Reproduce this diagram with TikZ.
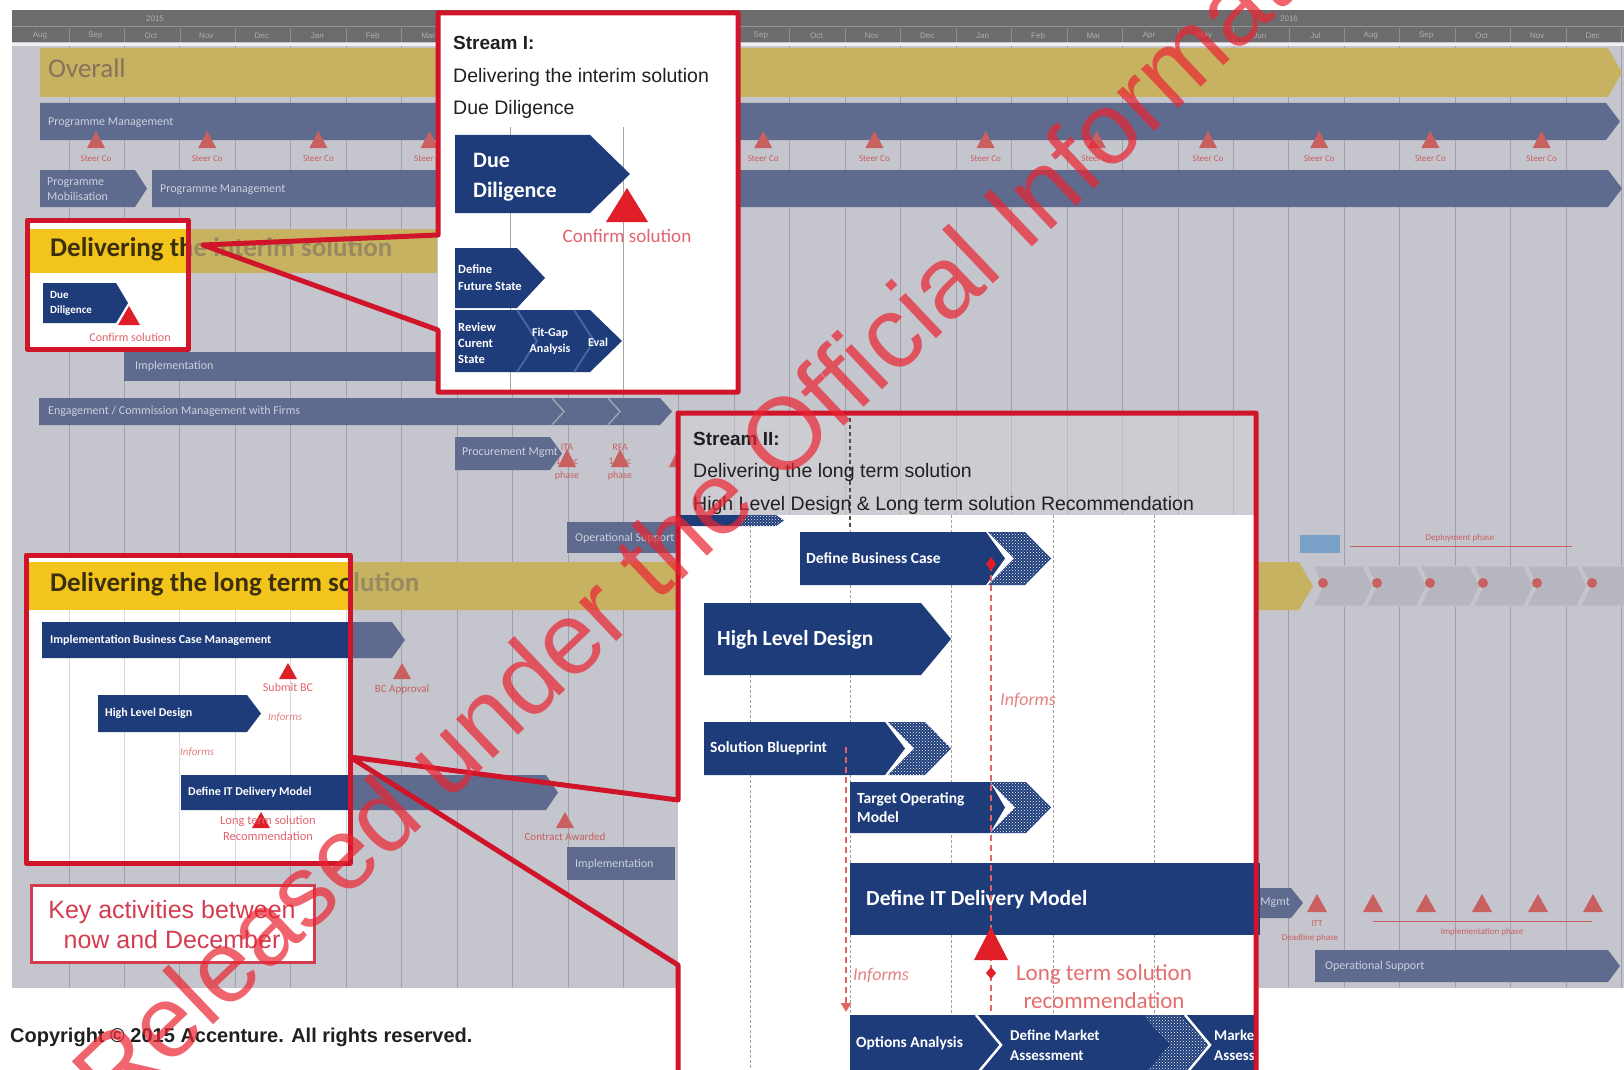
\documentclass[tikz,border=0pt]{standalone}
\usepackage{fontspec}
\setmainfont{Liberation Sans}
\newfontfamily\calfont{Carlito}
\usetikzlibrary{patterns,arrows.meta}
\newcommand\fsz[2]{\fontsize{#1}{#2}\selectfont}
\newcommand\mychev[6]{\path[#6] (#1,#2) -- ({#3-#5},#2) -- (#3,{(#2+#4)/2}) -- ({#3-#5},#4) -- (#1,#4) -- cycle;}
\newcommand\mynotch[6]{\path[#6] (#1,#2) -- ({#3-#5},#2) -- (#3,{(#2+#4)/2}) -- ({#3-#5},#4) -- (#1,#4) -- ({#1+#5},{(#2+#4)/2}) -- cycle;}
\newcommand\mytri[5]{\path[#5] ({#1-#4},#3) -- (#1,#2) -- ({#1+#4},#3) -- cycle;}
\definecolor{bg}{RGB}{197,197,205}
\definecolor{gridc}{RGB}{160,160,172}
\definecolor{hdr}{RGB}{108,108,110}
\definecolor{hdrtxt}{RGB}{175,175,175}
\definecolor{ylwdim}{RGB}{198,178,96}
\definecolor{ylw}{RGB}{242,196,28}
\definecolor{slate}{RGB}{94,106,142}
\definecolor{navy}{RGB}{30,60,122}
\definecolor{redb}{RGB}{208,20,42}
\definecolor{redtri}{RGB}{224,30,40}
\definecolor{redtxt}{RGB}{226,100,110}
\definecolor{dimred}{RGB}{200,96,96}
\definecolor{dimlbl}{RGB}{205,208,222}
\definecolor{dimtxt}{RGB}{152,138,96}
\definecolor{dkt}{RGB}{60,48,10}
\definecolor{ovt}{RGB}{136,114,92}
\definecolor{keyred}{RGB}{212,60,80}
\definecolor{wm}{RGB}{234,36,48}
\definecolor{txt}{RGB}{32,32,32}
\definecolor{hdrII}{RGB}{204,204,210}
\definecolor{graychev}{RGB}{182,182,192}
\definecolor{faint}{RGB}{215,215,222}
\definecolor{lightblue}{RGB}{120,160,200}
\definecolor{sepblue}{RGB}{70,100,160}
\definecolor{hdrline}{RGB}{186,186,194}
\definecolor{infcol}{RGB}{228,130,130}
\definecolor{ltscol}{RGB}{228,110,110}
\definecolor{dashcol}{RGB}{226,100,100}
\tikzset{
  lbl/.style={inner sep=0pt, anchor=base west},
  lblc/.style={inner sep=0pt, anchor=base},
  dimlab/.style={inner sep=0pt, anchor=west, text=dimlbl, font=\calfont\fsz{12}{14}, align=left},
  tinyred/.style={inner sep=0pt, anchor=base, text=dimred, font=\calfont\fsz{9}{10}, align=center},
  whitelab/.style={inner sep=0pt, anchor=west, text=white, font=\calfont\bfseries\fsz{12}{14}, align=left},
  bigwhite/.style={inner sep=0pt, anchor=base west, text=white, font=\calfont\bfseries\fsz{21.5}{24}},
  midwhite/.style={inner sep=0pt, anchor=west, text=white, font=\calfont\bfseries\fsz{15.5}{19}, align=left},
  redframe/.style={draw=redb, line width=5pt, line join=round},
  bandtext/.style={inner sep=0pt, anchor=base west, font=\calfont\bfseries\fsz{27}{30}},
  streamt/.style={inner sep=0pt, anchor=base west, text=txt, font=\fsz{19.5}{22}},
  informs/.style={inner sep=0pt, anchor=west, text=infcol, font=\calfont\itshape\fsz{18}{20}},
  redlab/.style={inner sep=0pt, anchor=base, text=redtxt, font=\calfont\fsz{12}{14}, align=center},
  hatchdots/.style={pattern=crosshatch dots, pattern color=white},
  reddash/.style={draw=dashcol, line width=2.5pt, dash pattern=on 6pt off 4pt},
}
\begin{document}
\begin{tikzpicture}[x=1pt,y=-1pt]
\useasboundingbox (0,0) rectangle (1624,1070);
\fill[white] (0,0) rectangle (1624,1070);
% ---------- background chart ----------
\fill[bg] (12,10) rectangle (1624,988);
\fill[hdr] (12,10) rectangle (1624,42);
\draw[hdrtxt!60!hdr, line width=1pt] (12,27) -- (1624,27);
\fill[white!75!bg] (12,43) rectangle (1624,46);
\foreach \k in {0,...,28} {
  \draw[gridc, line width=1pt] ({69+55.45*\k},46) -- ({69+55.45*\k},988);
  \draw[hdrtxt!50!hdr, line width=0.8pt] ({69+55.45*\k},28) -- ({69+55.45*\k},42);
}
\foreach \m [count=\k from 0] in {Aug,Sep,Oct,Nov,Dec,Jan,Feb,Mar,Apr,May,Jun,Jul,Aug,Sep,Oct,Nov,Dec,Jan,Feb,Mar,Apr,May,Jun,Jul,Aug,Sep,Oct,Nov,Dec}
  \node[inner sep=0pt, text=hdrtxt, font=\fsz{8}{9}] (mon\k) at ({40+55.45*\k},35.5) {\m};
\node[inner sep=0pt, text=hdrtxt, font=\fsz{8}{9}] (yr1) at (155,19) {2015};
\node[inner sep=0pt, text=hdrtxt, font=\fsz{8}{9}] (yr2) at (1289,19) {2016};
% Overall
\mychev{40}{48}{1622}{97}{14}{fill=ylwdim}
\node[lbl, text=ovt, font=\calfont\fsz{27}{30}] (overall) at (48,78) {Overall};
% Programme management row
\mychev{40}{103}{1620}{140}{14}{fill=slate}
\node[dimlab] (pmf) at (48,123) {Programme Management};
\foreach \k in {0,...,13} {
  \pgfmathsetmacro\tx{96+111.2*\k}
  \mytri{\tx}{131}{148}{9}{fill=dimred}
  \node[tinyred] (sc\k) at (\tx,161) {Steer Co};
}
% Mobilisation row
\mychev{40}{170}{147}{207}{12}{fill=slate}
\node[dimlab, font=\calfont\fsz{12}{15}] (pmob) at (47,189) {Programme\\Mobilisation};
\mychev{152}{170}{1622}{207}{14}{fill=slate}
\node[dimlab] (pman) at (160,190) {Programme Management};
% interim band
\fill[ylwdim] (40,229) rectangle (437,273);
\node[bandtext, text=dimtxt] (dintdim) at (50,256) {Delivering the interim solution};
\fill[slate] (124,352) rectangle (437,381);
\node[dimlab] (impl1) at (135,366) {Implementation};
% engagement row
\mychev{39}{398}{672}{425}{12}{fill=slate}
\draw[bg!60!slate, line width=1.5pt] (552,398) -- (564,411.5) -- (552,425);
\draw[bg!60!slate, line width=1.5pt] (608,398) -- (620,411.5) -- (608,425);
\node[dimlab] (eng) at (48,411) {Engagement / Commission Management with Firms};
\mychev{455}{437}{562}{470}{12}{fill=slate}
\node[dimlab] (proc) at (462,453) {Procurement Mgmt};
\mytri{567}{449}{467}{9}{fill=dimred}
\mytri{620}{449}{467}{9}{fill=dimred}
\mytri{678}{449}{467}{9}{fill=dimred}
\node[tinyred, font=\calfont\fsz{10}{14}] (itt1) at (567,478) {ITA\\1 Dec\\phase};
\node[tinyred, font=\calfont\fsz{10}{14}] (itt2) at (620,478) {RFA\\1 Dec\\phase};
\fill[slate] (567,522) rectangle (680,553);
\node[dimlab] (ops1) at (575,538) {Operational Support};
% long term band
\mychev{42}{562}{1313}{610}{14}{fill=ylwdim}
\node[bandtext, text=dimtxt] (dltdim) at (50,591) {Delivering the long term solution};
\foreach \k in {0,...,5} {
  \pgfmathsetmacro\gx{1313+53.5*\k}
  \pgfmathsetmacro\gxe{1313+53.5*\k+60}
  \mynotch{\gx}{566}{\gxe}{606}{10}{fill=graychev, draw=bg, line width=1pt}
}
\foreach \dx in {1323,1377,1430,1483,1537,1592}
  \fill[dimred] (\dx,583) circle (5pt);
\fill[lightblue] (1300,535) rectangle (1340,553);
\draw[dimred, line width=1pt] (1350,546) -- (1572,546);
\node[tinyred] (dep) at (1460,540) {Deployment phase};
% dim items below long term band
\mychev{42}{622}{405}{658}{13}{fill=slate}
\mytri{402}{663}{679}{9}{fill=dimred}
\node[tinyred, font=\calfont\fsz{11}{12}] (bca) at (402,692) {BC Approval};
\mychev{181}{775}{558}{810}{12}{fill=slate}
\mytri{565}{812}{828}{9}{fill=dimred}
\node[tinyred, font=\calfont\fsz{11}{12}] (caw) at (565,840) {Contract Awarded};
\fill[slate] (567,847) rectangle (675,880);
\node[dimlab] (impl2) at (575,864) {Implementation};
% right side lower rows
\mychev{1140}{888}{1303}{918}{12}{fill=slate}
\node[inner sep=0pt, anchor=east, text=dimlbl, font=\calfont\fsz{12}{14}] (mgmt) at (1290,903) {Procurement Mgmt};
\foreach \tx in {1317,1373,1426,1482,1538,1593}
  \mytri{\tx}{894}{912}{10}{fill=dimred};
\node[tinyred] (ittr) at (1317,926) {ITT};
\node[tinyred] (ittp) at (1310,940) {Deadline phase};
\draw[dimred, line width=1pt] (1373,921) -- (1592,921);
\node[tinyred] (implp) at (1482,934) {Implementation phase};
\mychev{1315}{950}{1620}{982}{12}{fill=slate}
\node[dimlab] (ops2) at (1325,966) {Operational Support};
% ---------- small red box (interim) ----------
\fill[white] (27,220) rectangle (188,349);
\begin{scope}
  \clip (27,220) rectangle (188,349);
  \fill[ylw] (27,229) rectangle (188,273);
  \node[bandtext, text=dkt] (dint) at (50,256) {Delivering the interim solution};
  \mychev{43}{283}{128}{323}{12}{fill=navy}
  \node[whitelab, font=\calfont\bfseries\fsz{11}{15}] (ddsm) at (50,303) {Due\\Diligence};
  \mytri{129}{306}{325}{11}{fill=redtri}
  \node[redlab] (cssm) at (130,341) {Confirm solution};
\end{scope}
\draw[redframe] (27,220) rectangle (188,349);
% ---------- big red box (long term) ----------
\fill[white] (26,555) rectangle (350,863);
\begin{scope}
  \clip (26,555) rectangle (350,863);
  \foreach \k in {0,...,5}
    \draw[faint, line width=1pt] ({69+55.45*\k},610) -- ({69+55.45*\k},863);
  \fill[ylw] (26,562) rectangle (350,610);
  \node[bandtext, text=dkt] (dlt) at (50,591) {Delivering the long term solution};
  \mychev{42}{622}{405}{658}{13}{fill=navy}
  \node[whitelab] (ibcm) at (50,640) {Implementation Business Case Management};
  \mytri{288}{663}{679}{9}{fill=redtri}
  \node[redlab] (sbc) at (288,691) {Submit BC};
  \mychev{98}{695}{261}{732}{14}{fill=navy}
  \node[whitelab] (hlds) at (105,713) {High Level Design};
  \node[informs, font=\calfont\itshape\fsz{11}{12}] (inf1) at (268,717) {Informs};
  \node[informs, font=\calfont\itshape\fsz{11}{12}] (inf2) at (180,752) {Informs};
  \mychev{181}{775}{558}{810}{12}{fill=navy}
  \node[whitelab] (ditds) at (188,792) {Define IT Delivery Model};
  \mytri{261}{812}{828}{9}{fill=redtri}
  \node[redlab, font=\calfont\fsz{12.5}{16}] (ltsr) at (268,840) {Long term solution\\Recommendation};
\end{scope}
\draw[redframe] (26,555) rectangle (350,863);
% ---------- key activities ----------
\draw[draw=keyred, line width=3pt, fill=white] (31,885) rectangle (314,962);
\node[lblc, text=keyred, font=\fsz{25}{28}] (key1) at (172,918) {Key activities between};
\node[lblc, text=keyred, font=\fsz{25}{28}] (key2) at (172,948) {now and December};
% ---------- Stream I ----------
\fill[white] (438,13) rectangle (738,392);
\draw[gray!70, line width=1pt] (510,127) -- (510,390);
\draw[gray!70, line width=1pt] (623,127) -- (623,390);
\node[lbl, text=txt, font=\bfseries\fsz{19}{22}] (s1a) at (453,50) {Stream I:};
\node[streamt] (s1b) at (453,83) {Delivering the interim solution};
\node[streamt] (s1c) at (453,115) {Due Diligence};
\mychev{455}{135}{630}{213}{40}{fill=navy}
\node[lbl, text=white, font=\calfont\bfseries\fsz{22}{26}] (dd1) at (473,167) {Due};
\node[lbl, text=white, font=\calfont\bfseries\fsz{22}{26}] (dd2) at (473,197) {Diligence};
\mytri{627}{188}{222}{21}{fill=redtri}
\node[lblc, text=redtxt, font=\calfont\fsz{19}{22}] (cs) at (627,242) {Confirm solution};
\mychev{455}{248}{545}{308}{28}{fill=navy}
\node[whitelab, font=\calfont\bfseries\fsz{12.5}{17}] (dfs) at (458,278) {Define\\Future State};
\mychev{455}{310}{622}{372}{32}{fill=navy}
\draw[sepblue, line width=2pt] (517,310) -- (537,341) -- (517,372);
\draw[sepblue, line width=2pt] (574,310) -- (594,341) -- (574,372);
\node[whitelab, font=\calfont\bfseries\fsz{12.5}{16}] (rcs) at (458,343) {Review\\Curent\\State};
\node[inner sep=0pt, text=white, align=center, font=\calfont\bfseries\fsz{12}{16}] (fga) at (550,341) {Fit-Gap\\Analysis};
\node[inner sep=0pt, text=white, font=\calfont\bfseries\fsz{12}{14}] (ev) at (598,342) {Eval};
\draw[redframe] (203,245) -- (438,235) -- (438,13) -- (738,13) -- (738,392) -- (438,392) -- (438,330) -- cycle;
% ---------- Stream II ----------
\fill[white] (678,413) rectangle (1256,1075);
\fill[hdrII] (678,413) rectangle (1256,515);
\foreach \k in {11,...,21}
  \draw[hdrline, line width=1pt] ({69+55.45*\k},416) -- ({69+55.45*\k},515);
\foreach \gxl in {750,951,1053,1154}
  \draw[gray!75, line width=1pt, dash pattern=on 3pt off 2pt] (\gxl,515) -- (\gxl,1075);
\draw[black!70, line width=1.3pt, dash pattern=on 4pt off 3pt] (850,418) -- (850,530);
\draw[gray!75, line width=1pt, dash pattern=on 3pt off 2pt] (850,530) -- (850,1075);
\node[lbl, text=txt, font=\bfseries\fsz{19}{22}] (s2a) at (693,445) {Stream II:};
\node[streamt] (s2b) at (693,477) {Delivering the long term solution};
\node[streamt] (s2c) at (693,510) {High Level Design \& Long term solution Recommendation};
\mychev{680}{515}{784}{526}{8}{fill=navy}
\mychev{740}{515}{784}{526}{8}{hatchdots}
% define business case
\mychev{800}{532}{1005}{585}{19}{fill=navy}
\mynotch{988}{532}{1051}{585}{26}{fill=navy}
\mynotch{988}{532}{1051}{585}{26}{hatchdots}
\node[midwhite] (dbc) at (806,558) {Define Business Case};
% high level design
\mychev{704}{603}{951}{675}{30}{fill=navy}
\node[bigwhite] (hld) at (717,645) {High Level Design};
% solution blueprint
\mychev{704}{722}{905}{775}{20}{fill=navy}
\mynotch{888}{722}{951}{775}{26}{fill=navy}
\mynotch{888}{722}{951}{775}{26}{hatchdots}
\node[midwhite] (sbp) at (710,748) {Solution Blueprint};
% target operating model
\mychev{850}{782}{1005}{833}{15}{fill=navy}
\mynotch{990}{782}{1051}{833}{25}{fill=navy}
\mynotch{990}{782}{1051}{833}{25}{hatchdots}
\node[midwhite] (tom) at (857,808) {Target Operating\\Model};
% define IT delivery model
\fill[navy] (850,863) rectangle (1260,935);
\node[bigwhite] (ditd) at (866,905) {Define IT Delivery Model};
% bottom row
\begin{scope}
  \clip (680,413) rectangle (1254,1075);
  \fill[navy] (850,1015) rectangle (1256,1075);
  \mynotch{1143}{1015}{1208}{1075}{27}{hatchdots}
  \draw[white, line width=2.5pt] (976,1015) -- (1001,1045) -- (976,1075);
  \draw[white, line width=2.5pt] (1185,1015) -- (1210,1045) -- (1185,1075);
  \node[midwhite] (opt) at (856,1043) {Options Analysis};
  \node[midwhite, font=\calfont\bfseries\fsz{15}{20}] (dma) at (1010,1045) {Define Market\\Assessment};
  \node[midwhite, font=\calfont\bfseries\fsz{15}{20}] (mas) at (1214,1045) {Market\\Assessment};
\end{scope}
% informs links and milestone
\draw[reddash] (991,565) -- (991,1015);
\fill[redtri] (991,557) -- (996,564) -- (991,571) -- (986,564) -- cycle;
\draw[reddash, -{Triangle[length=9pt,width=10pt]}] (846,747) -- (846,1012);
\node[informs] (inf3) at (1000,700) {Informs};
\node[informs] (inf4) at (853,975) {Informs};
\mytri{991}{927}{960}{17}{fill=redtri}
\fill[redtri] (991,967) -- (996,973) -- (991,979) -- (986,973) -- cycle;
\node[lblc, text=ltscol, font=\calfont\fsz{23}{26}] (lts1) at (1104,980) {Long term solution};
\node[lblc, text=ltscol, font=\calfont\fsz{23}{26}] (lts2) at (1104,1008) {recommendation};
\draw[redframe] (678,1080) -- (678,965) -- (350,757) -- (678,800) -- (678,413) -- (1256,413) -- (1256,1080);
% ---------- copyright ----------
\node[lbl, text=txt, font=\bfseries\fsz{20}{22}] (copy) at (10,1042) {Copyright © 2015 Accenture. All rights reserved.};
% ---------- watermark ----------
\node[inner sep=0pt, anchor=base west, rotate=43.5, text=wm, opacity=0.7, font=\fsz{102}{108}] (wmk) at (114,1119) {Released under the Official Information Act};
\end{tikzpicture}
\end{document}
